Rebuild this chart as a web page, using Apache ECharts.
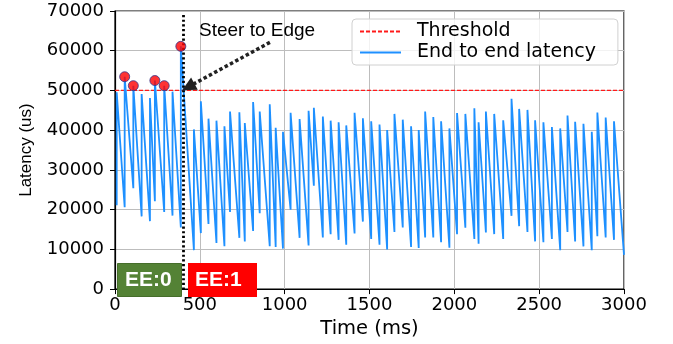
<!DOCTYPE html>
<html>
<head>
<meta charset="utf-8">
<script src="https://cdn.jsdelivr.net/npm/echarts@6/dist/echarts.min.js"></script>
<style>
  html, body { margin: 0; padding: 0; background: #fff; }
  #chart { width: 673px; height: 344px; }
</style>
</head>
<body>
<div id="chart"></div>
<script>
// time (ms) at which each latency step rises
const riseTimes = [
  10, 57, 108, 157, 206, 235, 290, 339, 388, 465,
  506, 551, 598, 645, 678, 733, 765, 814, 853, 912,
  947, 990, 1035, 1088, 1141, 1172, 1225, 1271, 1318, 1363,
  1412, 1461, 1510, 1559, 1604, 1647, 1696, 1745, 1790, 1828,
  1876, 1922, 1971, 2016, 2065, 2118, 2143, 2186, 2235, 2288,
  2337, 2382, 2431, 2476, 2525, 2575, 2624, 2667, 2712, 2761,
  2810, 2843, 2892, 2941
];
// latency just before the rise (us)
const troughValues = [
  21100, 20600, 25400, 18300, 17100, 22100, 19400, 18500, 15500, 9800,
  14100, 16400, 11600, 10800, 19400, 12900, 12000, 14650, 19100, 10800,
  10600, 10200, 20000, 12900, 11000, 26000, 13000, 13800, 12400, 11150,
  14000, 17000, 12600, 11150, 9950, 14400, 15500, 10600, 10350, 13000,
  13000, 11800, 10400, 13800, 15450, 12600, 11400, 14250, 13850, 12600,
  18450, 15850, 14400, 12000, 11800, 12600, 9800, 14400, 12000, 10750,
  9800, 13300, 13000, 12400
];
// latency right after the rise (us)
const peakValues = [
  49550, 53450, 51200, 49100, 48100, 52500, 51200, 49700, 61100, 40200,
  47300, 42900, 42400, 41000, 44700, 44500, 41800, 47100, 44700, 46550,
  40600, 39600, 44400, 42800, 44900, 45650, 43450, 42400, 42000, 41200,
  44400, 43000, 42250, 41400, 40050, 44100, 42650, 41000, 40050, 44700,
  43300, 42250, 40450, 44300, 44100, 45500, 42000, 44700, 44100, 42500,
  47900, 45350, 45100, 42500, 42000, 40800, 40450, 43700, 42100, 41600,
  39600, 44450, 43200, 42250
];
const lastPoint = [3000, 8600];
const threshold = 50000;
const steerTime = 400;
const xTicks = [0, 500, 1000, 1500, 2000, 2500, 3000];
const yTicks = [0, 10000, 20000, 30000, 40000, 50000, 60000, 70000];

const latency = [];
riseTimes.forEach((t, i) => {
  latency.push([t, troughValues[i]]);
  latency.push([t, peakValues[i]]);
});
latency.push(lastPoint);

const overPeaks = riseTimes
  .map((t, i) => [t, peakValues[i]])
  .filter((p) => p[1] > threshold);

const tickFont = "DejaVu Sans";
const plain = (v) => String(v);
const chart = echarts.init(document.getElementById("chart"));

chart.setOption({
  animation: false,
  grid: {
    left: 115, right: 49, top: 11, bottom: 46,
    show: true, borderColor: "#000", borderWidth: 1.2,
  },
  legend: {
    orient: "vertical",
    left: 352, top: 19,
    data: ["Threshold", "End to end latency"],
    itemWidth: 41, itemHeight: 14, itemGap: 2,
    padding: [3, 22, 3, 7],
    backgroundColor: "rgba(255,255,255,0.8)",
    borderColor: "#d0d0d0", borderWidth: 1, borderRadius: 4,
    itemStyle: { color: "rgba(0,0,0,0)", borderWidth: 0, opacity: 0 },
    textStyle: { fontFamily: tickFont, fontSize: 19, color: "#000", padding: [0, 0, 0, 11] },
  },
  xAxis: {
    type: "value",
    min: xTicks[0], max: xTicks[xTicks.length - 1], interval: xTicks[1] - xTicks[0],
    name: "Time (ms)", nameLocation: "middle", nameGap: 22,
    nameTextStyle: { fontFamily: tickFont, fontSize: 19.5, color: "#000" },
    axisLine: { lineStyle: { color: "#000", width: 1.2 } },
    axisTick: { show: true, length: 5, lineStyle: { color: "#000" } },
    axisLabel: { fontFamily: tickFont, fontSize: 18, color: "#000", margin: 7, formatter: plain },
    splitLine: { show: true, lineStyle: { color: "#bdbdbd", width: 1 } },
  },
  yAxis: {
    type: "value",
    min: yTicks[0], max: yTicks[yTicks.length - 1], interval: yTicks[1] - yTicks[0],
    name: "Latency (us)", nameLocation: "middle", nameGap: 80,
    nameTextStyle: { fontFamily: "Liberation Sans", fontSize: 17, color: "#000" },
    axisLine: { show: true, lineStyle: { color: "#000", width: 1.2 } },
    axisTick: { show: true, length: 5, lineStyle: { color: "#000" } },
    axisLabel: { fontFamily: tickFont, fontSize: 18, color: "#000", margin: 11, formatter: plain },
    splitLine: { show: true, lineStyle: { color: "#bdbdbd", width: 1 } },
  },
  series: [
    {
      name: "Threshold",
      type: "line",
      data: [[xTicks[0], threshold], [xTicks[xTicks.length - 1], threshold]],
      symbol: "none",
      lineStyle: { color: "#ff1a1a", width: 1.2, type: [4, 2] },
      itemStyle: { color: "#ff1a1a" },
      z: 2,
      markLine: {
        silent: true,
        symbol: ["none", "none"],
        label: { show: false },
        lineStyle: { color: "#000", width: 2.8, type: [2.2, 2.5] },
        data: [[{ coord: [steerTime, 69000] }, { coord: [steerTime, 0] }]],
      },
    },
    {
      name: "End to end latency",
      type: "line",
      data: latency,
      symbol: "none",
      lineStyle: { color: "#1e90ff", width: 1.8 },
      itemStyle: { color: "#1e90ff" },
      z: 3,
    },
    {
      name: "over",
      type: "scatter",
      data: overPeaks,
      symbol: "circle",
      symbolSize: 10,
      itemStyle: { color: "#ff0000", borderColor: "#34348a", borderWidth: 1 },
      z: 5,
      markLine: {
        silent: true,
        symbol: ["none", "triangle"],
        symbolSize: 14,
        label: { show: false },
        lineStyle: { color: "#222", width: 3.5, type: [3.5, 2.5] },
        data: [[{ coord: [913, 62100] }, { coord: [432, 50900] }]],
      },
    },
  ],
  graphic: [
    {
      type: "text", x: 199, y: 31, z: 10,
      style: { text: "Steer to Edge", font: '19px "Liberation Sans"', fill: "#000", verticalAlign: "middle" },
    },
    {
      type: "rect", z: 10,
      shape: { x: 117.5, y: 263.5, width: 64, height: 33 },
      style: { fill: "#548235", stroke: "#466e2b", lineWidth: 1 },
    },
    {
      type: "text", x: 125, y: 280.5, z: 11,
      style: { text: "EE:0", font: 'bold 21px "Liberation Sans"', fill: "#fff", verticalAlign: "middle" },
    },
    {
      type: "rect", z: 10,
      shape: { x: 188, y: 263, width: 69, height: 34 },
      style: { fill: "#ff0000" },
    },
    {
      type: "text", x: 195, y: 280.5, z: 11,
      style: { text: "EE:1", font: 'bold 21px "Liberation Sans"', fill: "#fff", verticalAlign: "middle" },
    },
  ],
});
</script>
</body>
</html>
